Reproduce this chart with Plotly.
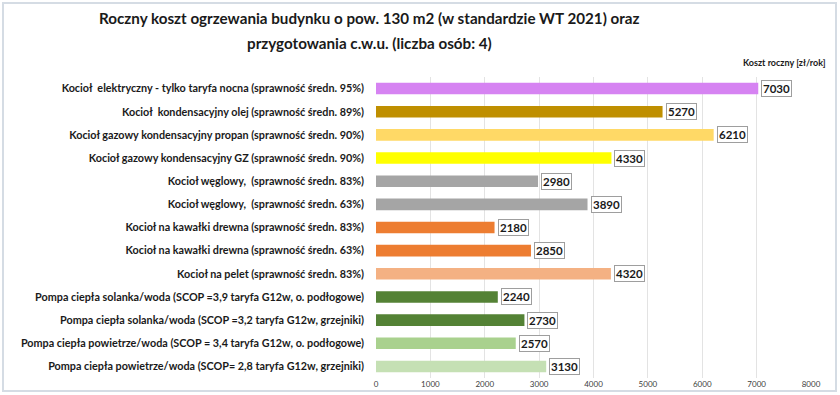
import plotly.graph_objects as go

categories = [
    "Kocioł  elektryczny - tylko taryfa nocna (sprawność średn. 95%)",
    "Kocioł  kondensacyjny olej (sprawność średn. 89%)",
    "Kocioł gazowy kondensacyjny propan (sprawność średn. 90%)",
    "Kocioł gazowy kondensacyjny GZ (sprawność średn. 90%)",
    "Kocioł węglowy,  (sprawność średn. 83%)",
    "Kocioł węglowy,  (sprawność średn. 63%)",
    "Kocioł na kawałki drewna (sprawność średn. 83%)",
    "Kocioł na kawałki drewna (sprawność średn. 63%)",
    "Kocioł na pelet (sprawność średn. 83%)",
    "Pompa ciepła solanka/woda (SCOP =3,9 taryfa G12w, o. podłogowe)",
    "Pompa ciepła solanka/woda (SCOP =3,2 taryfa G12w, grzejniki)",
    "Pompa ciepła powietrze/woda (SCOP = 3,4 taryfa G12w, o. podłogowe)",
    "Pompa ciepła powietrze/woda (SCOP= 2,8 taryfa G12w, grzejniki)",
]
values = [7030, 5270, 6210, 4330, 2980, 3890, 2180, 2850, 4320, 2240, 2730, 2570, 3130]
colors = ["#D683F2", "#BF8F00", "#FFD966", "#FFFF00", "#A5A5A5", "#A5A5A5",
          "#ED7D31", "#ED7D31", "#F4B183", "#548235", "#548235", "#A9D18E", "#C5E0B4"]
tick_vals = [0, 1000, 2000, 3000, 4000, 5000, 6000, 7000, 8000]

title_lines = ["Roczny koszt ogrzewania budynku o pow. 130 m2 (w standardzie WT 2021) oraz",
               "przygotowania c.w.u. (liczba osób: 4)"]
unit_text = "Koszt roczny [zł/rok]"

W, H = 840, 395
ML, MR, MT, MB = 376, 29, 77, 17
PW, PH = W - ML - MR, H - MT - MB

FONT = "Lato"


def px_x(px):
    return (px - ML) / PW


def px_y(py):
    return (H - MB - py) / PH


fig = go.Figure()
fig.add_trace(go.Bar(
    x=values, y=categories, orientation="h",
    marker=dict(color=colors, line=dict(width=0)),
    hoverinfo="x+y",
))

annotations = []
for c, v in zip(categories, values):
    annotations.append(dict(
        x=v, y=c, xref="x", yref="y", text=f"<b>{v}</b>", showarrow=False,
        xanchor="left", xshift=3, font=dict(family=FONT, size=11.5, color="#1a1a1a"),
        bgcolor="white", bordercolor="#9E9E9E", borderwidth=1, borderpad=1,
    ))
annotations.append(dict(
    x=px_x(828), y=px_y(62), xref="paper", yref="paper", text=f"<b>{unit_text}</b>",
    showarrow=False, xanchor="right", yanchor="middle",
    font=dict(family=FONT, size=9, color="#1a1a1a"),
))
for line, ty in zip(title_lines, [18, 43]):
    annotations.append(dict(
        x=px_x(369), y=px_y(ty), xref="paper", yref="paper", text=f"<b>{line}</b>",
        showarrow=False, xanchor="center", yanchor="middle",
        font=dict(family=FONT, size=15.2, color="#1a1a1a"),
    ))

fig.update_layout(
    width=W, height=H,
    margin=dict(l=ML, r=MR, t=MT, b=MB, autoexpand=False),
    paper_bgcolor="white", plot_bgcolor="white",
    bargap=0.5,
    showlegend=False,
    xaxis=dict(range=[0, 8000], tickvals=tick_vals, showgrid=True, gridcolor="#E3E3E3",
               gridwidth=1, zeroline=False, showline=False, automargin=False,
               tickfont=dict(family=FONT, size=8, color="#404040"), ticks=""),
    yaxis=dict(autorange="reversed", showgrid=False, showline=False, ticks="",
               ticklabelstandoff=11, automargin=False,
               tickfont=dict(family=FONT, size=10.8, color="#1a1a1a")),
    annotations=annotations,
    shapes=[dict(type="rect", xref="paper", yref="paper",
                 x0=px_x(3), x1=px_x(836), y0=px_y(391), y1=px_y(3),
                 line=dict(color="#D5DCE4", width=2), fillcolor="rgba(0,0,0,0)", layer="below")],
)
fig.update_yaxes(tickprefix="<b>", ticksuffix="</b>")
fig.write_html("out.html", config={"displayModeBar": False},
               post_script="document.body.style.margin='0';document.body.style.overflow='hidden';")
